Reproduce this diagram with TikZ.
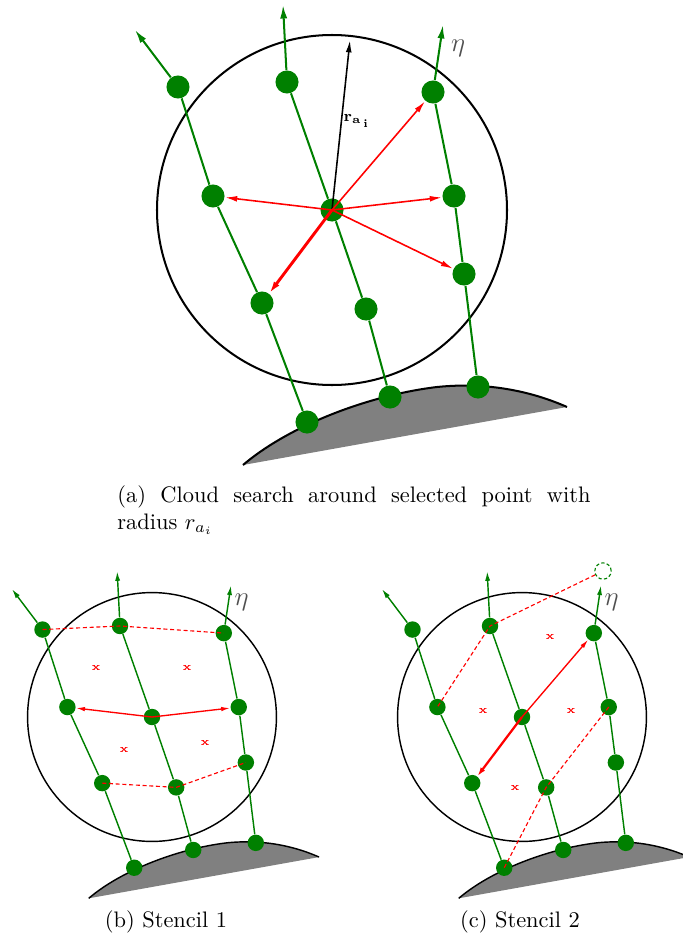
\documentclass[tikz,border=0pt]{standalone}
\usepackage{amsmath,amssymb}
\usetikzlibrary{arrows.meta,positioning}
\definecolor{ptcolor}{RGB}{0,128,0}
\definecolor{groundcolor}{RGB}{128,128,128}
\definecolor{etacolor}{RGB}{80,80,80}

\begin{document}
\begin{tikzpicture}[x=0.446pt, y=-0.446pt,
    xmark/.style={font=\tiny\bfseries, red},
    reddash/.style={red, line width=0.5pt, dash pattern=on 1.8pt off 1.2pt}]

  \useasboundingbox (0,0) rectangle (682,944);

  % ---- common part of the three panels (given in top-panel pixels) ----
  \foreach \p/\cx/\cy/\scl in {a/332/210/1, b/152/717/0.711, c/522/717/0.711} {
    \pgfmathsetmacro{\lw}{0.9*\scl}
    \pgfmathsetmacro{\ps}{10.3*\scl}
    \pgfmathsetmacro{\tl}{6*\scl}
    \pgfmathsetmacro{\tw}{3.2*\scl}
    \begin{scope}[shift={(\cx,\cy)}, scale=\scl, shift={(-332,-210)}, name prefix=\p-]
      % ground
      \fill[groundcolor] (243,465) .. controls (290,425) and (370,395) .. (437,387)
        .. controls (495,381) and (540,395) .. (567,407) -- cycle;
      \draw[line width=\lw pt] (243,465) .. controls (290,425) and (370,395) .. (437,387)
        .. controls (495,381) and (540,395) .. (567,407);
      % search radius
      \draw[line width=\lw pt] (332,210) circle[radius=175];
      % points on the three normal lines
      \foreach \n/\x/\y in {11/178/87, 12/213/196, 13/262/303, 14/307/422,
                             21/287/82, 22/332/210, 23/366/309, 24/390/397,
                             31/433/92, 32/454/196, 33/464/274, 34/478/387}
        \node[circle, fill=ptcolor, inner sep=0pt, minimum size=\ps pt] (n\n) at (\x,\y) {};
      \coordinate (t1) at (135,30);
      \coordinate (t2) at (283,5);
      \coordinate (t3) at (443,25);
      \foreach \l in {1,2,3}
        \draw[ptcolor, line width=\lw pt, -{Latex[length=\tl pt, width=\tw pt]}]
          (n\l4) -- (n\l3) -- (n\l2) -- (n\l1) -- (t\l);
      \node[font=\large, etacolor] (eta) at (458,48) {$\eta$};
    \end{scope}
  }

  % ---- (a) cloud search ----
  \coordinate (a-rtip) at (350,40);
  \draw[line width=0.7pt, -{Latex[length=5.5pt, width=2.6pt]}] (a-n22.center) -- (a-rtip);
  \node[font=\scriptsize] (a-rlab) at (357,121) {$\mathbf{r_{a_{\,i}}}$};
  \foreach \t in {12,31,32,33}
    \draw[red, line width=0.7pt, -{Latex[length=5.5pt, width=2.6pt]}] (a-n22.center) -- (a-n\t);
  \draw[red, line width=1.3pt, -{Latex[length=5.5pt, width=3pt]}] (a-n22.center) -- (a-n13);

  \node[anchor=north west, inner sep=0pt, align=left] (capa) at (117,485)
    {\makebox[211pt][s]{(a) Cloud search around selected point with}\\ radius $r_{a_i}$};

  % ---- (b) stencil 1 ----
  \draw[reddash] (b-n11.center) -- (b-n21.center) -- (b-n31.center);
  \draw[reddash] (b-n13.center) -- (b-n23.center) -- (b-n33.center);
  \draw[red, line width=0.6pt, -{Latex[length=4pt, width=2pt]}] (b-n22.center) -- (b-n12);
  \draw[red, line width=0.6pt, -{Latex[length=4pt, width=2pt]}] (b-n22.center) -- (b-n32);
  \foreach \i/\x/\y in {1/96/668, 2/187/668, 3/124/750, 4/205/743}
    \node[xmark] (b-x\i) at (\x,\y) {x};
  \node[anchor=base] (capb) at (166,927) {(b) Stencil 1};

  % ---- (c) stencil 2 ----
  \node[circle, draw=ptcolor, line width=0.5pt, dash pattern=on 1.5pt off 1pt,
        inner sep=0pt, minimum size=7.3pt] (c-ghost) at (603,571) {};
  \draw[reddash] (c-ghost) -- (c-n21.center) -- (c-n12.center);
  \draw[reddash] (c-n32.center) -- (c-n23.center) -- (c-n14.center);
  \draw[red, line width=0.6pt, -{Latex[length=4pt, width=2pt]}] (c-n22.center) -- (c-n31);
  \draw[red, line width=1pt, -{Latex[length=4pt, width=2.4pt]}] (c-n22.center) -- (c-n13);
  \foreach \i/\x/\y in {1/550/637, 2/483/711, 3/571/711, 4/515/788}
    \node[xmark] (c-x\i) at (\x,\y) {x};
  \node[anchor=base] (capc) at (520,927) {(c) Stencil 2};

\end{tikzpicture}
\end{document}
